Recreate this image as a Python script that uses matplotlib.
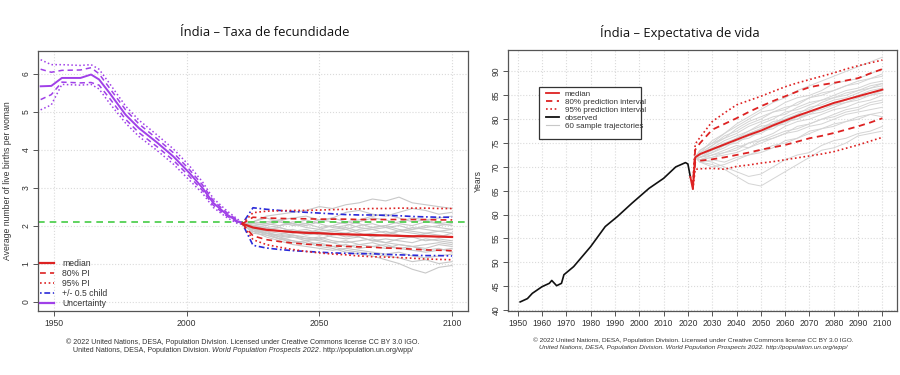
import matplotlib
matplotlib.use('Agg')
import matplotlib.pyplot as plt
from matplotlib.lines import Line2D
from matplotlib.patches import Rectangle

plt.rcParams['font.family'] = ['Liberation Sans', 'DejaVu Sans']

# ---- left panel: fertility -------------------------------------------
past_years = [1945, 1949, 1953, 1960, 1964, 1967, 1971, 1977, 1982, 1989, 1995, 2001, 2006, 2010, 2015, 2019, 2021]
past_median = [5.67, 5.68, 5.89, 5.89, 5.98, 5.85, 5.49, 4.92, 4.57, 4.18, 3.82, 3.39, 2.99, 2.60, 2.30, 2.12, 2.05]
past_hi80 = [6.12, 6.04, 6.09, 6.10, 6.16, 6.00, 5.62, 5.05, 4.68, 4.28, 3.92, 3.48, 3.07, 2.66, 2.35, 2.15, 2.06]
past_lo80 = [5.32, 5.45, 5.78, 5.76, 5.77, 5.70, 5.35, 4.80, 4.45, 4.07, 3.72, 3.30, 2.92, 2.54, 2.26, 2.09, 2.04]
past_hi95 = [6.37, 6.24, 6.24, 6.22, 6.24, 6.12, 5.74, 5.15, 4.78, 4.38, 4.02, 3.58, 3.15, 2.72, 2.40, 2.18, 2.07]
past_lo95 = [5.05, 5.18, 5.72, 5.70, 5.72, 5.60, 5.22, 4.70, 4.35, 3.97, 3.62, 3.20, 2.85, 2.48, 2.22, 2.06, 2.03]

proj_years = [2021, 2025, 2030, 2035, 2040, 2045, 2050, 2055, 2060, 2065, 2070, 2075, 2080, 2085, 2090, 2095, 2100]
proj_median = [2.05, 1.95, 1.89, 1.86, 1.83, 1.81, 1.80, 1.78, 1.77, 1.76, 1.75, 1.74, 1.73, 1.72, 1.72, 1.71, 1.70]
proj_hi80 = [2.05, 2.22, 2.20, 2.19, 2.18, 2.18, 2.17, 2.17, 2.17, 2.16, 2.16, 2.16, 2.16, 2.16, 2.16, 2.15, 2.15]
proj_lo80 = [2.05, 1.73, 1.63, 1.58, 1.54, 1.51, 1.49, 1.47, 1.45, 1.44, 1.43, 1.41, 1.40, 1.38, 1.36, 1.35, 1.34]
proj_hi95 = [2.05, 2.34, 2.38, 2.39, 2.40, 2.40, 2.41, 2.42, 2.43, 2.44, 2.45, 2.45, 2.46, 2.46, 2.46, 2.45, 2.45]
proj_lo95 = [2.05, 1.63, 1.50, 1.43, 1.37, 1.32, 1.28, 1.25, 1.23, 1.20, 1.18, 1.17, 1.16, 1.14, 1.12, 1.11, 1.10]
half_child_hi = [2.05, 2.47, 2.43, 2.40, 2.37, 2.35, 2.33, 2.31, 2.29, 2.28, 2.28, 2.27, 2.26, 2.24, 2.23, 2.22, 2.22]
half_child_lo = [2.05, 1.48, 1.41, 1.37, 1.34, 1.32, 1.30, 1.28, 1.27, 1.26, 1.26, 1.24, 1.23, 1.22, 1.21, 1.21, 1.20]
replacement_tfr = 2.1

# sample trajectories (values for 2025..2100, all start from proj_median[0] in 2021)
tfr_traj = [
    [2.10, 2.25, 2.30, 2.35, 2.40, 2.50, 2.45, 2.55, 2.60, 2.70, 2.65, 2.75, 2.60, 2.55, 2.50, 2.45],
    [1.95, 1.85, 1.70, 1.60, 1.55, 1.45, 1.40, 1.30, 1.25, 1.20, 1.10, 1.00, 0.85, 0.75, 0.90, 0.95],
    [2.00, 1.95, 2.00, 2.05, 1.95, 1.90, 2.00, 2.10, 2.05, 1.95, 2.00, 2.10, 2.20, 2.15, 2.05, 2.00],
    [1.90, 1.80, 1.75, 1.70, 1.65, 1.70, 1.60, 1.55, 1.60, 1.65, 1.55, 1.50, 1.45, 1.50, 1.55, 1.50],
    [2.05, 2.10, 2.15, 2.05, 2.00, 2.10, 2.20, 2.35, 2.40, 2.30, 2.25, 2.35, 2.45, 2.40, 2.30, 2.35],
    [1.85, 1.70, 1.60, 1.50, 1.45, 1.40, 1.35, 1.40, 1.35, 1.30, 1.25, 1.30, 1.20, 1.15, 1.20, 1.25],
    [1.95, 1.90, 1.85, 1.80, 1.85, 1.75, 1.80, 1.70, 1.75, 1.80, 1.85, 1.75, 1.70, 1.80, 1.75, 1.70],
    [2.00, 1.95, 1.85, 1.90, 1.80, 1.85, 1.90, 1.95, 1.85, 1.90, 1.80, 1.85, 1.95, 1.90, 1.85, 1.90],
    [1.80, 1.75, 1.65, 1.55, 1.60, 1.50, 1.45, 1.50, 1.40, 1.45, 1.50, 1.40, 1.35, 1.30, 1.35, 1.40],
    [2.10, 2.05, 2.15, 2.20, 2.25, 2.15, 2.20, 2.10, 2.15, 2.25, 2.30, 2.20, 2.10, 2.15, 2.20, 2.25],
    [1.90, 1.85, 1.80, 1.75, 1.70, 1.65, 1.75, 1.80, 1.70, 1.60, 1.65, 1.60, 1.55, 1.65, 1.60, 1.55],
    [1.95, 1.80, 1.70, 1.75, 1.65, 1.60, 1.55, 1.45, 1.50, 1.55, 1.45, 1.40, 1.45, 1.35, 1.40, 1.30],
    [2.05, 2.00, 2.10, 2.00, 2.05, 1.95, 2.00, 1.90, 2.00, 2.05, 1.95, 2.00, 1.90, 1.95, 2.00, 2.05],
    [1.85, 1.80, 1.75, 1.85, 1.80, 1.90, 1.85, 1.80, 1.90, 1.95, 2.00, 1.90, 1.85, 1.80, 1.85, 1.80],
    [2.00, 1.90, 1.95, 1.85, 1.75, 1.80, 1.70, 1.65, 1.70, 1.60, 1.55, 1.65, 1.70, 1.60, 1.65, 1.60],
    [2.10, 2.20, 2.10, 2.05, 2.15, 2.05, 1.95, 2.00, 2.10, 2.20, 2.15, 2.05, 2.00, 2.10, 2.05, 2.10],
    [1.90, 1.75, 1.65, 1.60, 1.50, 1.55, 1.45, 1.35, 1.30, 1.25, 1.20, 1.15, 1.05, 1.10, 1.00, 1.05],
    [1.95, 1.90, 1.95, 1.85, 1.90, 1.80, 1.85, 1.90, 1.80, 1.70, 1.75, 1.85, 1.80, 1.75, 1.70, 1.80],
    [2.00, 2.05, 2.00, 2.10, 2.05, 2.15, 2.10, 2.05, 1.95, 1.90, 1.95, 1.85, 1.90, 2.00, 1.95, 1.90],
    [1.85, 1.80, 1.65, 1.70, 1.60, 1.65, 1.55, 1.60, 1.50, 1.45, 1.40, 1.50, 1.45, 1.40, 1.50, 1.45],
]

# ---- right panel: life expectancy ------------------------------------
obs_years = [1951, 1954, 1956, 1960, 1963, 1964, 1966, 1968, 1969, 1973, 1980, 1986, 1991, 1997, 2004, 2010, 2015, 2019, 2020, 2021]
obs_e0 = [41.7, 42.4, 43.5, 44.9, 45.6, 46.2, 45.1, 45.6, 47.4, 49.1, 53.3, 57.5, 59.6, 62.4, 65.5, 67.6, 70.0, 70.9, 70.6, 67.9]

e0_years = [2021, 2022, 2023, 2025, 2030, 2035, 2040, 2045, 2050, 2055, 2060, 2065, 2070, 2075, 2080, 2085, 2090, 2095, 2100]
e0_median = [67.9, 65.5, 72.0, 72.7, 73.7, 74.7, 75.7, 76.7, 77.6, 78.7, 79.7, 80.7, 81.6, 82.5, 83.4, 84.1, 84.8, 85.5, 86.2]
pi_years = [2022, 2023, 2025, 2030, 2035, 2040, 2045, 2050, 2055, 2060, 2065, 2070, 2075, 2080, 2085, 2090, 2095, 2100]
e0_hi80 = [65.8, 73.6, 75.0, 77.8, 79.0, 80.2, 81.5, 82.7, 83.8, 84.8, 85.8, 86.7, 87.2, 87.6, 88.1, 88.6, 89.6, 90.5]
e0_lo80 = [65.3, 71.0, 71.3, 71.6, 72.0, 72.5, 73.0, 73.6, 74.1, 74.6, 75.3, 76.0, 76.5, 77.1, 77.8, 78.5, 79.3, 80.2]
e0_hi95 = [66.0, 74.8, 76.2, 79.5, 81.3, 83.0, 83.9, 84.8, 85.8, 86.8, 87.6, 88.3, 89.0, 89.7, 90.5, 91.2, 91.8, 92.4]
e0_lo95 = [65.2, 69.5, 69.6, 69.7, 69.5, 70.1, 70.4, 70.8, 71.1, 71.5, 71.9, 72.3, 72.7, 73.2, 73.9, 74.6, 75.4, 76.2]

# sample trajectories (values for 2025..2100, all start at 72.0 in 2023)
e0_traj = [
    [73.5, 75.0, 77.0, 79.0, 80.5, 82.0, 83.5, 84.5, 86.0, 87.0, 88.0, 89.0, 90.0, 91.0, 92.0, 93.0],
    [71.5, 71.0, 70.0, 69.0, 68.0, 68.5, 70.0, 71.5, 72.5, 73.0, 74.5, 75.5, 76.0, 77.0, 77.5, 78.5],
    [72.5, 74.0, 75.5, 76.5, 77.5, 79.0, 80.0, 81.5, 82.0, 83.0, 84.0, 84.5, 85.5, 86.0, 87.0, 87.5],
    [72.0, 73.0, 74.0, 75.5, 76.0, 77.5, 78.5, 79.0, 80.5, 81.0, 82.5, 83.0, 84.0, 85.0, 85.5, 86.0],
    [73.0, 75.5, 77.0, 78.5, 80.0, 81.5, 82.0, 83.5, 84.5, 85.0, 86.0, 87.5, 88.0, 88.5, 89.5, 90.5],
    [71.0, 70.5, 69.5, 68.0, 66.5, 66.0, 67.5, 69.0, 70.5, 72.0, 73.5, 74.0, 75.0, 76.5, 77.0, 77.5],
    [72.5, 73.5, 75.0, 75.5, 77.0, 78.0, 79.5, 80.0, 81.0, 82.5, 83.0, 84.0, 84.5, 85.5, 86.5, 87.0],
    [71.5, 72.5, 73.0, 74.0, 75.0, 75.5, 76.5, 77.5, 78.0, 79.0, 80.0, 80.5, 81.5, 82.0, 83.0, 83.5],
    [73.0, 74.5, 76.5, 77.5, 79.0, 80.0, 81.5, 82.5, 83.0, 84.5, 85.0, 86.0, 87.0, 87.5, 88.5, 89.0],
    [72.0, 72.5, 73.5, 74.5, 74.0, 75.0, 76.0, 77.0, 78.5, 79.0, 80.0, 81.0, 82.0, 82.5, 83.5, 84.0],
    [72.5, 74.0, 74.5, 76.0, 77.5, 78.5, 79.0, 80.5, 81.5, 82.0, 83.5, 84.5, 85.0, 86.0, 86.5, 87.5],
    [71.5, 72.0, 72.5, 73.0, 74.0, 75.5, 76.0, 77.0, 77.5, 78.5, 79.0, 80.0, 81.0, 81.5, 82.0, 82.5],
    [72.5, 73.5, 74.5, 76.0, 76.5, 77.5, 78.0, 79.5, 80.0, 81.0, 81.5, 82.5, 83.5, 84.5, 85.0, 85.5],
    [73.5, 75.0, 76.0, 78.0, 79.5, 80.5, 81.5, 82.0, 83.5, 84.5, 85.5, 86.0, 87.0, 88.0, 88.5, 89.5],
    [71.0, 71.5, 71.0, 72.0, 72.5, 73.5, 74.5, 75.0, 76.0, 77.5, 78.0, 79.0, 79.5, 80.5, 81.0, 81.5],
    [72.0, 73.0, 74.5, 75.0, 76.5, 77.0, 78.5, 79.5, 80.0, 81.5, 82.0, 83.0, 83.5, 84.0, 85.0, 86.0],
    [72.5, 74.5, 76.0, 77.0, 78.5, 79.5, 80.5, 81.0, 82.5, 83.5, 84.0, 85.0, 86.0, 86.5, 87.5, 88.0],
    [71.5, 72.0, 73.0, 73.5, 75.0, 76.0, 77.0, 78.5, 79.5, 80.0, 81.0, 82.0, 82.5, 83.5, 84.0, 85.0],
    [72.0, 73.5, 75.0, 76.0, 77.0, 78.0, 79.0, 80.0, 81.0, 81.5, 82.5, 83.5, 84.0, 85.0, 86.0, 86.5],
    [71.0, 70.0, 70.5, 71.5, 72.5, 73.0, 74.0, 75.5, 76.0, 77.0, 78.0, 78.5, 79.5, 80.0, 81.0, 80.5],
]

RED = '#dd2222'
BLUE = '#2a2ad8'
PURPLE = '#a040e8'
GREEN = '#44cc44'
GRAY = '#c8c8c8'
DASH = (0, (3.5, 2.5))
DOT = (0, (1, 1.6))
DASHDOT = (0, (1, 1.6, 3.5, 1.6))
FS = 6.2

fig = plt.figure(figsize=(9, 3.75), dpi=100)
W, H = 900.0, 375.0


def px_axes(x0, y0, x1, y1):
    return fig.add_axes([x0 / W, 1 - y1 / H, (x1 - x0) / W, (y1 - y0) / H])


def style_axes(ax):
    for s in ax.spines.values():
        s.set_color('#555555')
        s.set_linewidth(0.9)
    ax.tick_params(direction='out', length=3.5, width=0.7, color='#555555',
                   labelsize=FS, labelcolor='#333333', pad=2)
    ax.tick_params(axis='y', labelrotation=90)
    for lab in ax.get_yticklabels():
        lab.set_va('center')
    ax.grid(True, color='#dadada', linestyle=':', linewidth=0.8)
    ax.set_axisbelow(True)


def mixed_line(parts, xc, y, size):
    # draw a line of text made of (string, style) pieces, centered at xc (pixels)
    r = fig.canvas.get_renderer()
    texts = []
    for s, st in parts:
        t = fig.text(0, 1 - y / H, s, fontsize=size, style=st, color='#333333', va='center')
        texts.append(t)
    widths = [t.get_window_extent(r).width for t in texts]
    x = xc - sum(widths) / 2
    for t, w in zip(texts, widths):
        t.set_x(x / W)
        x += w


# ---- left ----
ax1 = px_axes(38, 51, 468, 311)
for tr in tfr_traj:
    ax1.plot(proj_years, [proj_median[0]] + tr, color=GRAY, lw=0.8)
ax1.axhline(replacement_tfr, color=GREEN, lw=1.2, ls=(0, (4, 3)))
ax1.plot(past_years, past_hi95, color=PURPLE, lw=1.1, ls=DOT)
ax1.plot(past_years, past_lo95, color=PURPLE, lw=1.1, ls=DOT)
ax1.plot(past_years, past_hi80, color=PURPLE, lw=1.1, ls=DASH)
ax1.plot(past_years, past_lo80, color=PURPLE, lw=1.1, ls=DASH)
ax1.plot(past_years, past_median, color=PURPLE, lw=1.4)
ax1.plot(proj_years, half_child_hi, color=BLUE, lw=1.2, ls=DASHDOT)
ax1.plot(proj_years, half_child_lo, color=BLUE, lw=1.2, ls=DASHDOT)
ax1.plot(proj_years, proj_hi95, color=RED, lw=1.2, ls=DOT)
ax1.plot(proj_years, proj_lo95, color=RED, lw=1.2, ls=DOT)
ax1.plot(proj_years, proj_hi80, color=RED, lw=1.2, ls=DASH)
ax1.plot(proj_years, proj_lo80, color=RED, lw=1.2, ls=DASH)
ax1.plot(proj_years, proj_median, color=RED, lw=1.6)
ax1.set_xlim(1944, 2106)
ax1.set_ylim(-0.25, 6.6)
ax1.set_xticks([1950, 2000, 2050, 2100])
ax1.set_yticks(range(0, 7))
style_axes(ax1)
ax1.set_ylabel('Average number of live births per woman', fontsize=FS, color='#333333', labelpad=7)

h1 = [Line2D([], [], color=RED, lw=1.6),
      Line2D([], [], color=RED, lw=1.2, ls=DASH),
      Line2D([], [], color=RED, lw=1.2, ls=DOT),
      Line2D([], [], color=BLUE, lw=1.2, ls=DASHDOT),
      Line2D([], [], color=PURPLE, lw=1.6)]
leg1 = ax1.legend(h1, ['median', '80% PI', '95% PI', '+/- 0.5 child', 'Uncertainty'],
                  loc='upper left', bbox_to_anchor=(40 / W, 1 - 259 / H),
                  bbox_transform=fig.transFigure, frameon=False, fontsize=FS,
                  handlelength=1.6, handletextpad=1.0, labelspacing=0.12,
                  borderpad=0, borderaxespad=0)
for t in leg1.get_texts():
    t.set_color('#333333')

# ---- right ----
ax2 = px_axes(508, 50, 897, 311)
for tr in e0_traj:
    ax2.plot(pi_years[1:], [e0_median[2]] + tr, color='#d4d4d4', lw=0.7)
ax2.plot(obs_years, obs_e0, color='#111111', lw=1.2)
ax2.plot(pi_years, e0_hi95, color=RED, lw=1.2, ls=DOT)
ax2.plot(pi_years, e0_lo95, color=RED, lw=1.2, ls=DOT)
ax2.plot(pi_years, e0_hi80, color=RED, lw=1.3, ls=DASH)
ax2.plot(pi_years, e0_lo80, color=RED, lw=1.3, ls=DASH)
ax2.plot(e0_years, e0_median, color=RED, lw=1.4)
ax2.set_xlim(1946, 2106)
ax2.set_ylim(39.8, 94.5)
ax2.set_xticks(range(1950, 2101, 10))
ax2.set_yticks(range(40, 91, 5))
style_axes(ax2)
ax2.set_ylabel('Years', fontsize=FS, color='#333333', labelpad=6)

h2 = [Line2D([], [], color=RED, lw=1.3),
      Line2D([], [], color=RED, lw=1.3, ls=DASH),
      Line2D([], [], color=RED, lw=1.2, ls=DOT),
      Line2D([], [], color='#111111', lw=1.3),
      Line2D([], [], color='#c8c8c8', lw=0.8)]
leg2 = ax2.legend(h2, ['median', '80% prediction interval', '95% prediction interval',
                       'observed', '60 sample trajectories'],
                  loc='upper left', bbox_to_anchor=(546 / W, 1 - 90.5 / H),
                  bbox_transform=fig.transFigure, frameon=False,
                  fontsize=5.8, handlelength=1.6, handletextpad=0.7, labelspacing=0.05,
                  borderpad=0, borderaxespad=0)
for t in leg2.get_texts():
    t.set_color('#333333')
# legend box is narrower than its text in the original
ax2.add_patch(Rectangle((539 / W, 1 - 139 / H), 102 / W, 52 / H, transform=fig.transFigure,
                        facecolor='white', edgecolor='#333333', lw=0.9, zorder=4.5))

# ---- titles and credits ----
fig.text(265 / W, 1 - 32 / H, 'Índia – Taxa de fecundidade', ha='center', va='center',
         fontsize=9.4, family=['Open Sans', 'DejaVu Sans'], color='#111111')
fig.text(680 / W, 1 - 32 / H, 'Índia – Expectativa de vida', ha='center', va='center',
         fontsize=9.4, family=['Open Sans', 'DejaVu Sans'], color='#111111')

credit = '© 2022 United Nations, DESA, Population Division. Licensed under Creative Commons license CC BY 3.0 IGO.'
fig.text(243 / W, 1 - 342 / H, credit, ha='center', va='center', fontsize=5.1, color='#333333')
mixed_line([('United Nations, DESA, Population Division. ', 'normal'),
            ('World Population Prospects 2022', 'italic'),
            ('. http://population.un.org/wpp/', 'normal')], 243, 350, 5.1)
fig.text(693 / W, 1 - 340 / H, credit, ha='center', va='center', fontsize=4.65, color='#333333')
fig.text(693 / W, 1 - 348 / H,
         'United Nations, DESA, Population Division. World Population Prospects 2022. http://population.un.org/wpp/',
         ha='center', va='center', fontsize=4.65, style='italic', color='#333333')

fig.savefig('out.png', dpi=100)
